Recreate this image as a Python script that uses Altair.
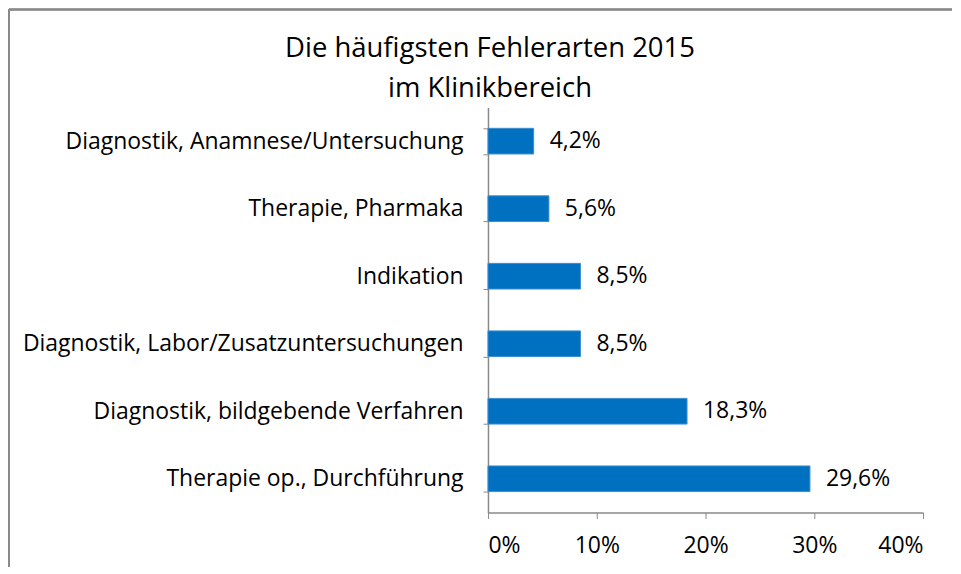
import altair as alt
import pandas as pd

categories = [
    "Diagnostik, Anamnese/Untersuchung",
    "Therapie, Pharmaka",
    "Indikation",
    "Diagnostik, Labor/Zusatzuntersuchungen",
    "Diagnostik, bildgebende Verfahren",
    "Therapie op., Durchführung",
]
values = [0.042, 0.056, 0.085, 0.085, 0.183, 0.296]
x_ticks = [0, 0.1, 0.2, 0.3, 0.4]

df = pd.DataFrame({"cat": categories, "val": values})
df["label"] = [f"{v*100:.1f}".replace(".", ",") + "%" for v in values]

FONT = "Open Sans"
BLUE = "#0070C0"
GRAY = "#898989"
FS = 23

y_enc = alt.Y(
    "cat:N",
    sort=categories,
    title=None,
    scale=alt.Scale(paddingInner=0.62, paddingOuter=0.31),
    axis=alt.Axis(
        tickBand="extent",
        tickSize=5,
        labelPadding=20,
        labelFontSize=FS,
        labelFont=FONT,
        labelColor="black",
        labelLimit=500,
        domainColor=GRAY,
        tickColor=GRAY,
        domainWidth=1.5,
    ),
)
x_enc = alt.X(
    "val:Q",
    title=None,
    scale=alt.Scale(domain=[0, 0.4], nice=False),
    axis=alt.Axis(
        values=x_ticks,
        format=".0%",
        grid=False,
        tickSize=6,
        labelPadding=16,
        labelFontSize=FS,
        labelFont=FONT,
        labelColor="black",
        domainColor=GRAY,
        tickColor=GRAY,
        domainWidth=1.5,
    ),
)

bars = alt.Chart(df).mark_bar(color=BLUE, stroke="#3d8fd1", strokeWidth=1).encode(
    y=y_enc, x=x_enc
)
texts = alt.Chart(df).mark_text(
    align="left", baseline="middle", dx=16, fontSize=FS, font=FONT, color="black"
).encode(y=alt.Y("cat:N", sort=categories), x="val:Q", text="label:N")

frame_left = alt.Chart(df).mark_rule(color=GRAY, strokeWidth=1.5).encode(
    x=alt.value(-480), y=alt.value(-98), y2=alt.value(460)
)
frame_top = alt.Chart(df).mark_rule(color=GRAY, strokeWidth=1.5).encode(
    x=alt.value(-480), x2=alt.value(465), y=alt.value(-98)
)

chart = (
    alt.layer(frame_left, frame_top, bars, texts)
    .properties(
        width=436,
        height=406,
        padding=0,
        title=alt.TitleParams(
            text=["Die häufigsten Fehlerarten 2015", "im Klinikbereich"],
            font=FONT,
            fontSize=27.5,
            fontWeight="normal",
            color="black",
            anchor="middle",
            frame="group",
            dx=-216,
            offset=-94,
            lineHeight=40,
        ),
    )
    .configure_view(stroke=None)
)

chart.save("out.html", embed_options={"renderer": "svg", "actions": False})
